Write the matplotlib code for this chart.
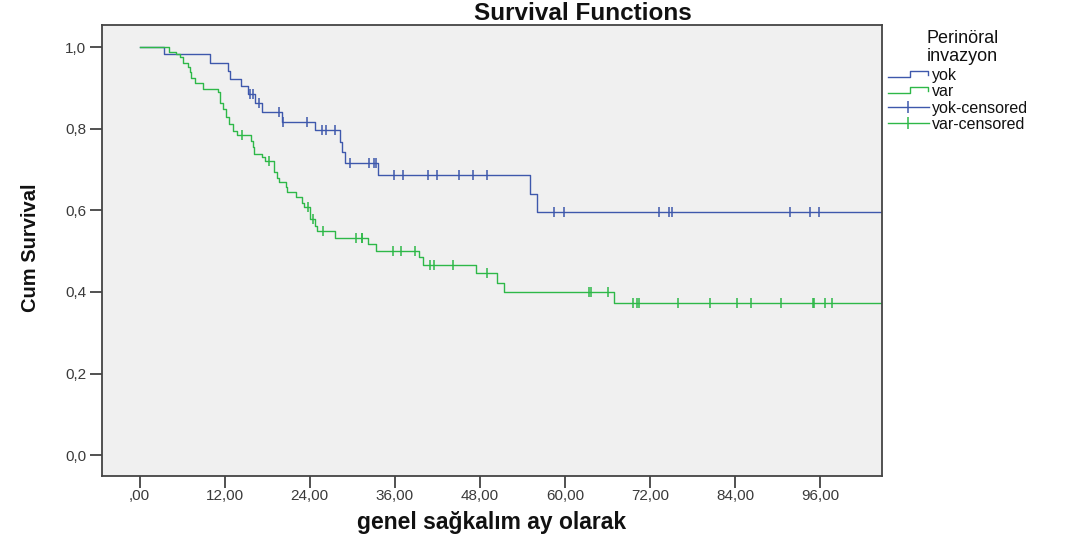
import numpy as np
import matplotlib
matplotlib.use("Agg")
import matplotlib.pyplot as plt
from matplotlib.lines import Line2D
from matplotlib.legend_handler import HandlerBase
from matplotlib.ticker import FuncFormatter, FixedLocator
from matplotlib import font_manager

# ---------------- data ----------------
groups = ["yok", "var"]
legend_title = "Perinöral\ninvazyon"

yok_times = [0, 3.5, 9.9, 12.5, 12.8, 14.3, 15.3, 16.3, 17.2, 20.1, 24.8,
             28.2, 28.6, 28.9, 33.6, 55.1, 56.0]
yok_surv = [1.0, 0.983, 0.961, 0.942, 0.922, 0.904, 0.885, 0.862, 0.840,
            0.817, 0.796, 0.768, 0.742, 0.717, 0.686, 0.640, 0.595]
yok_censored = [15.6, 16.0, 16.8, 19.6, 20.2, 23.6, 25.7, 26.3, 27.6, 29.7,
                32.3, 33.0, 33.4, 35.9, 37.1, 40.7, 41.9, 45.1, 47.0, 49.0,
                58.5, 59.9, 73.3, 74.6, 75.1, 91.7, 94.6, 95.8]

var_times = [0, 4.1, 5.2, 5.7, 6.1, 6.8, 7.1, 7.3, 7.8, 9.0, 11.1, 11.4,
             11.8, 12.2, 12.6, 13.2, 13.8, 15.7, 16.0, 16.2, 17.2, 17.7,
             18.9, 19.4, 19.7, 20.6, 20.8, 22.1, 22.9, 23.2, 24.1, 24.8,
             25.0, 27.6, 32.2, 33.4, 39.4, 39.9, 47.5, 50.4, 51.4, 66.9]
var_surv = [1.0, 0.989, 0.983, 0.975, 0.962, 0.950, 0.938, 0.925, 0.913,
            0.898, 0.889, 0.864, 0.848, 0.828, 0.811, 0.795, 0.785, 0.770,
            0.754, 0.738, 0.730, 0.721, 0.693, 0.680, 0.669, 0.656, 0.644,
            0.632, 0.619, 0.607, 0.578, 0.562, 0.550, 0.533, 0.517, 0.501,
            0.485, 0.466, 0.446, 0.423, 0.401, 0.374]
var_censored = [14.4, 18.3, 23.7, 24.4, 25.9, 30.5, 31.3, 31.4, 35.7, 36.9,
                38.8, 41.0, 41.5, 44.2, 49.0, 63.4, 63.6, 66.0, 69.6, 70.1,
                70.4, 75.9, 80.5, 84.3, 86.2, 90.5, 95.0, 95.1, 96.6, 97.7]

follow_up_end = 104.7

x_ticks = [0, 12, 24, 36, 48, 60, 72, 84, 96]
y_ticks = [0.0, 0.2, 0.4, 0.6, 0.8, 1.0]

title = "Survival Functions"
x_label = "genel sağkalım ay olarak"
y_label = "Cum Survival"

colors = {"yok": "#3E58AC", "var": "#2EB848"}

# ---------------- fonts ----------------
avail = {f.name for f in font_manager.fontManager.ttflist}
plt.rcParams["font.family"] = ["Liberation Sans", "DejaVu Sans"]
has_narrow = "Liberation Sans Narrow" in avail
narrow = "Liberation Sans Narrow" if has_narrow else "Liberation Sans"

# ---------------- figure ----------------
W, H = 1071, 537
fig = plt.figure(figsize=(W / 100, H / 100), dpi=100)
fig.patch.set_facecolor("white")
ax = fig.add_axes([102 / W, 1 - 476 / H, (882 - 102) / W, (476 - 25) / H])
ax.set_facecolor("#F0F0F0")

series = {
    "yok": (yok_times, yok_surv, yok_censored),
    "var": (var_times, var_surv, var_censored),
}

for g in groups:
    t, s, c = series[g]
    t = np.asarray(t, float)
    s = np.asarray(s, float)
    xs = np.append(t, follow_up_end)
    ys = np.append(s, s[-1])
    ax.step(xs, ys, where="post", color=colors[g], lw=1.0)
    c = np.asarray(c, float)
    idx = np.searchsorted(t, c, side="right") - 1
    ax.plot(c, s[idx], ls="none", marker="|", markersize=7.5,
            markeredgewidth=1.1, color=colors[g])

ax.set_xlim(-5.3, follow_up_end)
ax.set_ylim(-0.051, 1.054)
ax.xaxis.set_major_locator(FixedLocator(x_ticks))
ax.yaxis.set_major_locator(FixedLocator(y_ticks))


def xfmt(v, pos):
    s = f"{v:.2f}".replace(".", ",")
    return s[1:] if s.startswith("0,") else s


def yfmt(v, pos):
    return f"{v:.1f}".replace(".", ",")


ax.xaxis.set_major_formatter(FuncFormatter(xfmt))
ax.yaxis.set_major_formatter(FuncFormatter(yfmt))
ax.tick_params(axis="both", direction="out", length=8.5, width=1.2,
               color="#333333", labelsize=11, labelcolor="#3a3a3a")
ax.tick_params(axis="y", pad=3)
ax.tick_params(axis="x", pad=0.5)
for sp in ax.spines.values():
    sp.set_color("#444444")
    sp.set_linewidth(1.3)

# texts
fig.text(583 / W, 1 - 20 / H, title, ha="center", va="baseline",
         fontsize=17.5, fontweight="bold", color="#111111")
fig.text(492 / W, 1 - 522 / H, x_label, ha="center", va="center",
         fontsize=16.5, fontweight="bold", color="#111111")
fig.text(31 / W, 1 - 248 / H, y_label, ha="center", va="center",
         rotation=90, fontsize=17 if has_narrow else 14.5, fontweight="bold",
         family=narrow, color="#111111")


# legend
class HandlerStep(HandlerBase):
    def create_artists(self, legend, orig_handle, xdescent, ydescent,
                       width, height, fontsize, trans):
        xs = np.array([0.0, 0.55, 0.55, 0.97, 0.97]) * width - xdescent
        ys = np.array([0.25, 0.25, 0.8, 0.8, 0.45]) * height - ydescent
        ln = Line2D(xs, ys, color=orig_handle.get_color(),
                    lw=orig_handle.get_linewidth())
        ln.set_transform(trans)
        return [ln]


step_handles = [Line2D([], [], color=colors[g], lw=1.0) for g in groups]
cens_handles = [Line2D([0], [0], color=colors[g], lw=1.0, marker="|",
                       markersize=9, markeredgewidth=1.1) for g in groups]
labels = groups + [f"{g}-censored" for g in groups]
handler_map = {h: HandlerStep() for h in step_handles}
leg = fig.legend(step_handles + cens_handles, labels, handler_map=handler_map,
                 loc="upper left", bbox_to_anchor=(888 / W, 1 - 68 / H),
                 frameon=False, fontsize=11.5, handlelength=2.55,
                 handletextpad=0.2, labelspacing=0.08, borderaxespad=0,
                 borderpad=0, numpoints=1)
for txt in leg.get_texts():
    txt.set_color("#111111")
fig.text(927 / W, 1 - 30 / H, legend_title, ha="left", va="top",
         fontsize=13, color="#111111", linespacing=1.05)

fig.savefig("out.png", dpi=100)
